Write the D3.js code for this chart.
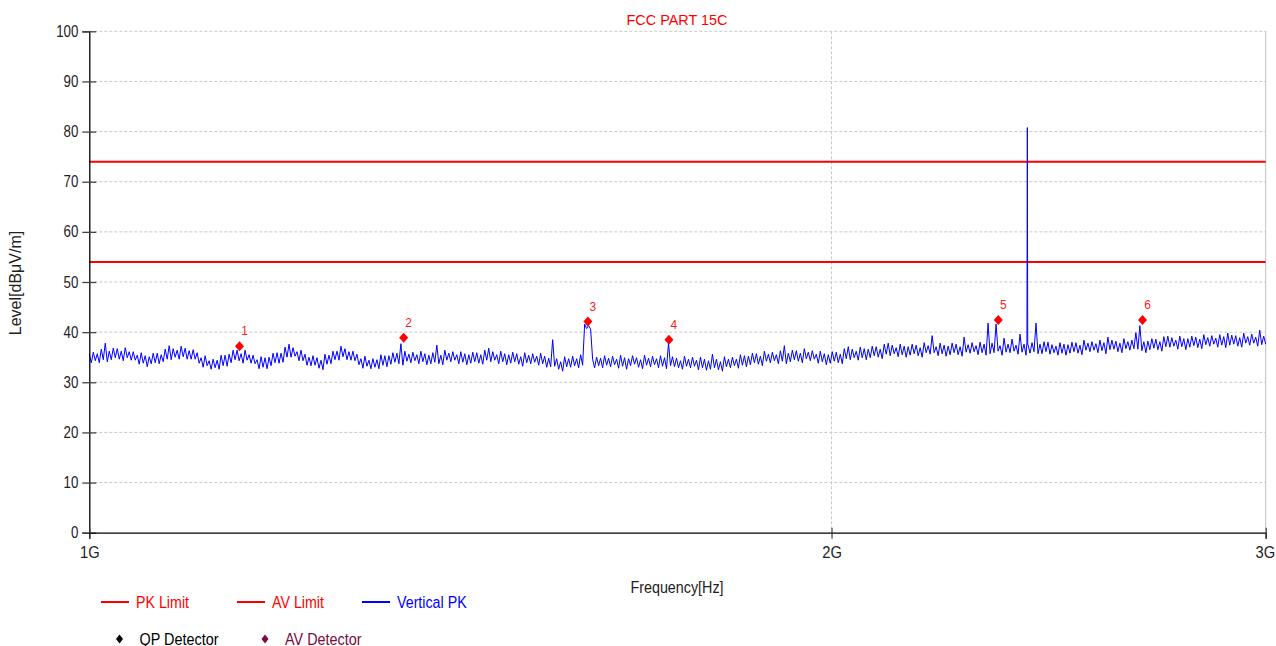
<!DOCTYPE html>
<html><head><meta charset="utf-8">
<script src="https://cdn.jsdelivr.net/npm/d3@7"></script>
<style>
body{margin:0;background:#fff}
svg{display:block}
text{font-family:"Liberation Sans",Arial,sans-serif}
</style>
</head><body>
<svg id="c" width="1276" height="646"></svg>
<script>
// ---------- data ----------
const chartTitle = "FCC PART 15C";
const xAxisTitle = "Frequency[Hz]";
const yAxisTitle = "Level[dBμV/m]";
const xTickValuesHz = [1e9, 2e9, 3e9];
const xTickLabels = ["1G", "2G", "3G"];
const yTickValues = [0, 10, 20, 30, 40, 50, 60, 70, 80, 90, 100];

const limitNames = ["PK Limit", "AV Limit"];
const limitLevels = [74, 54];

// sweep grid (log spaced) 1 GHz .. 3 GHz
const sweepStartHz = 1e9;
const sweepStopHz = 3e9;
const traceName = "Vertical PK";
const traceLevels = [
35.6,33.9,36.0,34.3,35.7,33.9,36.6,34.5,37.8,34.1,
36.2,34.5,36.8,34.9,36.7,34.6,36.2,34.3,36.9,34.9,
36.1,34.4,36.1,34.4,35.4,33.6,35.9,33.8,35.3,33.1,
35.1,33.7,35.8,33.9,35.8,33.7,35.5,34.1,36.6,34.6,
37.3,34.5,36.7,35.0,36.4,34.6,37.2,35.1,36.8,34.6,
36.3,34.6,36.5,34.6,35.9,33.8,34.9,33.0,35.3,33.3,
34.3,32.6,34.6,32.9,34.4,32.6,35.4,33.3,35.4,33.2,
35.6,33.9,36.4,34.5,36.4,34.3,35.7,33.8,36.4,34.4,
35.5,33.8,35.4,33.7,34.5,32.7,35.1,33.0,34.9,32.7,
35.0,33.3,35.8,33.9,35.9,33.8,35.8,34.0,37.0,35.0,
37.6,35.0,36.9,35.2,36.1,34.3,36.4,34.3,35.6,33.4,
35.0,33.3,35.3,33.4,34.9,32.8,34.4,32.5,35.6,33.6,
35.4,33.7,36.2,34.5,36.2,34.4,37.2,35.1,36.7,34.5,
36.1,34.4,36.2,34.3,35.6,33.5,34.7,32.8,35.2,33.2,
34.4,32.7,34.7,33.0,34.5,32.7,35.5,33.4,35.3,33.1,
35.3,33.6,35.9,34.0,35.8,33.7,37.7,33.4,36.2,34.2,
35.6,33.9,36.0,34.3,35.5,33.7,36.2,34.1,35.7,33.5,
35.4,33.7,35.9,34.0,37.4,33.7,35.4,33.5,36.4,34.4,
35.8,34.1,36.1,34.4,35.5,33.7,36.1,34.0,35.7,33.5,
35.5,33.8,36.0,34.1,35.9,33.8,35.5,33.6,36.4,34.4,
36.8,34.1,36.1,34.4,35.5,33.7,36.2,34.1,35.7,33.5,
35.5,33.8,36.0,34.1,35.7,33.6,35.1,33.2,35.9,33.9,
35.4,33.7,35.7,34.0,35.2,33.4,35.8,33.7,35.2,33.0,
34.8,33.1,38.5,33.2,34.7,32.6,34.1,32.2,35.1,33.1,
34.7,33.0,35.2,33.3,34.7,32.9,35.5,33.4,41.6,40.7,
41.3,40.6,34.6,32.9,35.0,33.3,34.8,32.9,35.3,33.4,
34.8,33.1,35.2,33.5,34.6,32.8,35.4,33.2,34.9,32.6,
34.7,33.3,35.3,33.6,34.9,33.0,34.5,32.7,35.4,33.4,
34.8,33.1,35.2,33.5,34.7,32.9,35.3,33.2,34.9,32.7,
37.8,33.3,35.1,33.1,34.8,32.9,34.3,32.6,35.2,33.2,
34.6,32.9,35.0,33.2,34.4,32.5,35.0,32.9,34.6,32.4,
34.3,32.6,35.6,32.9,34.6,32.5,34.1,32.2,35.1,33.1,
34.6,32.9,35.0,33.3,34.6,32.8,35.5,33.4,35.3,33.1,
35.2,33.5,35.8,33.9,35.7,33.6,35.2,33.3,36.2,34.2,
35.6,33.9,36.0,34.3,35.5,33.7,36.3,34.2,37.3,33.7,
35.8,34.1,36.4,34.5,36.3,34.2,35.8,33.9,36.7,34.7,
36.0,34.3,36.3,34.6,35.6,33.8,36.2,34.1,35.7,33.5,
35.5,33.8,36.1,34.2,36.0,33.9,35.6,33.7,36.7,34.7,
37.1,34.5,36.6,34.9,36.2,34.4,37.0,34.9,36.7,34.5,
36.6,34.9,37.2,35.3,37.1,35.0,36.6,34.7,37.6,35.6,
37.8,35.3,37.4,35.7,36.9,35.1,37.6,35.5,37.2,35.0,
37.1,35.4,37.6,35.7,37.4,35.3,36.9,35.0,37.9,35.9,
37.3,35.6,39.3,35.9,37.1,35.3,37.8,35.7,37.4,35.2,
37.2,35.5,37.8,35.9,37.6,35.5,37.1,35.2,39.0,36.0,
37.5,35.8,37.9,36.1,37.3,35.5,38.0,35.9,37.6,35.4,
41.8,35.7,37.8,35.9,41.6,36.2,37.3,35.4,38.8,36.0,
37.6,35.9,38.6,36.2,37.4,35.6,39.6,36.0,37.6,35.4,
37.5,35.8,37.9,36.1,41.8,35.7,37.6,35.7,38.1,36.1,
38.0,35.6,37.5,35.9,37.2,35.4,37.9,35.8,37.6,35.4,
37.5,35.8,38.0,36.1,37.9,35.8,37.4,35.5,38.4,36.4,
37.8,36.1,38.1,36.4,37.7,35.9,38.4,36.3,37.9,35.7,
39.0,36.5,38.4,36.6,38.2,36.1,37.8,35.9,38.7,36.7,
38.1,36.4,38.4,36.7,39.9,36.6,41.3,36.3,38.1,35.9,
38.2,36.5,38.7,36.8,38.6,36.5,38.1,36.2,39.1,37.1,
39.2,37.0,38.9,37.2,38.4,36.6,39.2,37.1,38.7,36.5,
38.7,37.0,39.2,37.3,39.0,36.9,38.6,36.7,39.5,37.5,
38.9,37.2,39.3,37.6,38.8,37.0,39.5,37.4,39.1,36.9,
39.8,37.4,39.4,37.6,39.3,37.2,38.9,37.0,39.8,37.8,
39.1,37.4,39.6,37.8,39.0,37.2,40.4,37.5,39.2,37.6
];
// narrow carrier spike (2.4 GHz)
const spikeFreqMHz = [2400.4, 2401.3, 2402.2];
const spikeLevels = [38.0, 80.8, 37.5];

// marker points
const markerLabels = ["1", "2", "3", "4", "5", "6"];
const markerFreqMHz = [1150.6, 1341.2, 1593.0, 1718.3, 2337.0, 2674.0];
const markerLevels = [37.2, 38.9, 42.1, 38.5, 42.4, 42.4];

const legendRow1 = ["PK Limit", "AV Limit", "Vertical PK"];
const legendRow1Colors = ["#ff0000", "#ff0000", "#0000ff"];
const legendRow2 = ["QP Detector", "AV Detector"];
const legendRow2Colors = ["#000000", "#7a0a40"];

// ---------- layout ----------
const m = {left: 89.3, right: 1265.7, top: 31.3, bottom: 532.7};
const svg = d3.select("#c");

const x = d3.scaleLog().domain([sweepStartHz, sweepStopHz]).range([m.left, m.right]);
const y = d3.scaleLinear().domain([0, 100]).range([m.bottom, m.top]);

function squeeze(sel, k) {
  sel.each(function() {
    const w = this.getComputedTextLength();
    d3.select(this).attr("textLength", w * k).attr("lengthAdjust", "spacingAndGlyphs");
  });
}

// trace data
const n = traceLevels.length;
let trace = traceLevels.map((v, i) => ({f: sweepStartHz * Math.pow(sweepStopHz / sweepStartHz, i / (n - 1)), v}));
spikeFreqMHz.forEach((f, i) => trace.push({f: f * 1e6, v: spikeLevels[i]}));
trace.sort((a, b) => a.f - b.f);

// grid
const grid = svg.append("g");
grid.selectAll("line.h").data(yTickValues.filter(d => d > 0)).join("line")
  .attr("x1", m.left).attr("x2", m.right)
  .attr("y1", d => y(d)).attr("y2", d => y(d))
  .attr("stroke", "#c8c8c8").attr("stroke-dasharray", "3,2");
grid.selectAll("line.v").data(xTickValuesHz.slice(1)).join("line")
  .attr("x1", d => x(d)).attr("x2", d => x(d))
  .attr("y1", m.top).attr("y2", m.bottom)
  .attr("stroke", (d, i) => i === xTickValuesHz.length - 2 ? "#c0c0c0" : "#c8c8c8")
  .attr("stroke-dasharray", (d, i) => i === xTickValuesHz.length - 2 ? null : "3,2");

// limits
svg.append("g").selectAll("line").data(limitLevels).join("line")
  .attr("x1", m.left).attr("x2", m.right)
  .attr("y1", d => y(d)).attr("y2", d => y(d))
  .attr("stroke", "#ff0000").attr("stroke-width", 2);

// trace
svg.append("path").datum(trace)
  .attr("fill", "none").attr("stroke", "#0000ff").attr("stroke-width", 1)
  .attr("stroke-linejoin", "round")
  .attr("d", d3.line().x(d => x(d.f)).y(d => y(d.v)));

// axes
const yAxis = svg.append("g").attr("transform", `translate(${m.left},0)`)
  .call(d3.axisLeft(y).tickValues(yTickValues).tickSize(7).tickPadding(4));
yAxis.select(".domain").attr("stroke", "#000").attr("stroke-width", 1.3);
yAxis.selectAll(".tick line").attr("x1", 7).attr("stroke", "#444").attr("stroke-width", 1.3);
yAxis.selectAll(".tick text").attr("font-size", 16).attr("fill", "#222")
  .attr("font-family", '"Liberation Sans",Arial,sans-serif');
squeeze(yAxis.selectAll(".tick text"), 0.83);

const xAxis = svg.append("g").attr("transform", `translate(0,${m.bottom})`)
  .call(d3.axisBottom(x).tickValues(xTickValuesHz).tickFormat((d, i) => xTickLabels[i]).tickSize(6).tickPadding(8));
xAxis.select(".domain").attr("stroke", "#000").attr("stroke-width", 1.3);
xAxis.selectAll(".tick line").attr("y1", -5).attr("stroke", "#333").attr("stroke-width", 1.1);
xAxis.selectAll(".tick text").attr("font-size", 16).attr("fill", "#222")
  .attr("font-family", '"Liberation Sans",Arial,sans-serif');
squeeze(xAxis.selectAll(".tick text"), 0.92);
xAxis.selectAll(".tick text").filter((d, i) => i === xTickValuesHz.length - 1)
  .attr("text-anchor", "end").attr("x", 9);

// markers
const mk = svg.append("g");
const mdata = markerFreqMHz.map((f, i) => ({f: f * 1e6, v: markerLevels[i], l: markerLabels[i]}));
mk.selectAll("path").data(mdata).join("path")
  .attr("transform", d => `translate(${x(d.f)},${y(d.v)})`)
  .attr("d", "M0,-5L4.5,0L0,5L-4.5,0Z").attr("fill", "#ff0000");
mk.selectAll("text").data(mdata).join("text")
  .attr("x", d => x(d.f) + 5).attr("y", d => y(d.v) - 11)
  .attr("text-anchor", "middle").attr("font-size", 12).attr("fill", "#ff2020")
  .text(d => d.l);

// titles
const t1 = svg.append("text").attr("x", 677).attr("y", 25).attr("text-anchor", "middle")
  .attr("font-size", 15).attr("fill", "#ff0000").text(chartTitle);
squeeze(t1, 0.96);
const t2 = svg.append("text").attr("x", 677).attr("y", 593).attr("text-anchor", "middle")
  .attr("font-size", 16).attr("fill", "#222").text(xAxisTitle);
squeeze(t2, 0.895);
svg.append("text").attr("transform", "translate(21,283) rotate(-90)").attr("text-anchor", "middle")
  .attr("font-size", 16).attr("fill", "#222").text(yAxisTitle);

// legend
const lg1X = [101, 237, 362];
const lg = svg.append("g");
legendRow1.forEach((t, i) => {
  lg.append("line").attr("x1", lg1X[i]).attr("x2", lg1X[i] + 28).attr("y1", 602).attr("y2", 602)
    .attr("stroke", legendRow1Colors[i]).attr("stroke-width", 2);
  const tt = lg.append("text").attr("x", lg1X[i] + 35).attr("y", 607.5).attr("font-size", 16)
    .attr("fill", legendRow1Colors[i]).text(t);
  squeeze(tt, 0.89);
});
const lg2X = [119.5, 265];
legendRow2.forEach((t, i) => {
  lg.append("path").attr("transform", `translate(${lg2X[i]},639)`)
    .attr("d", "M0,-4.5L3.5,0L0,4.5L-3.5,0Z").attr("fill", legendRow2Colors[i]);
  const tt = lg.append("text").attr("x", lg2X[i] + 20).attr("y", 644.5).attr("font-size", 16)
    .attr("fill", legendRow2Colors[i]).text(t);
  squeeze(tt, 0.9);
});
</script>
</body></html>
